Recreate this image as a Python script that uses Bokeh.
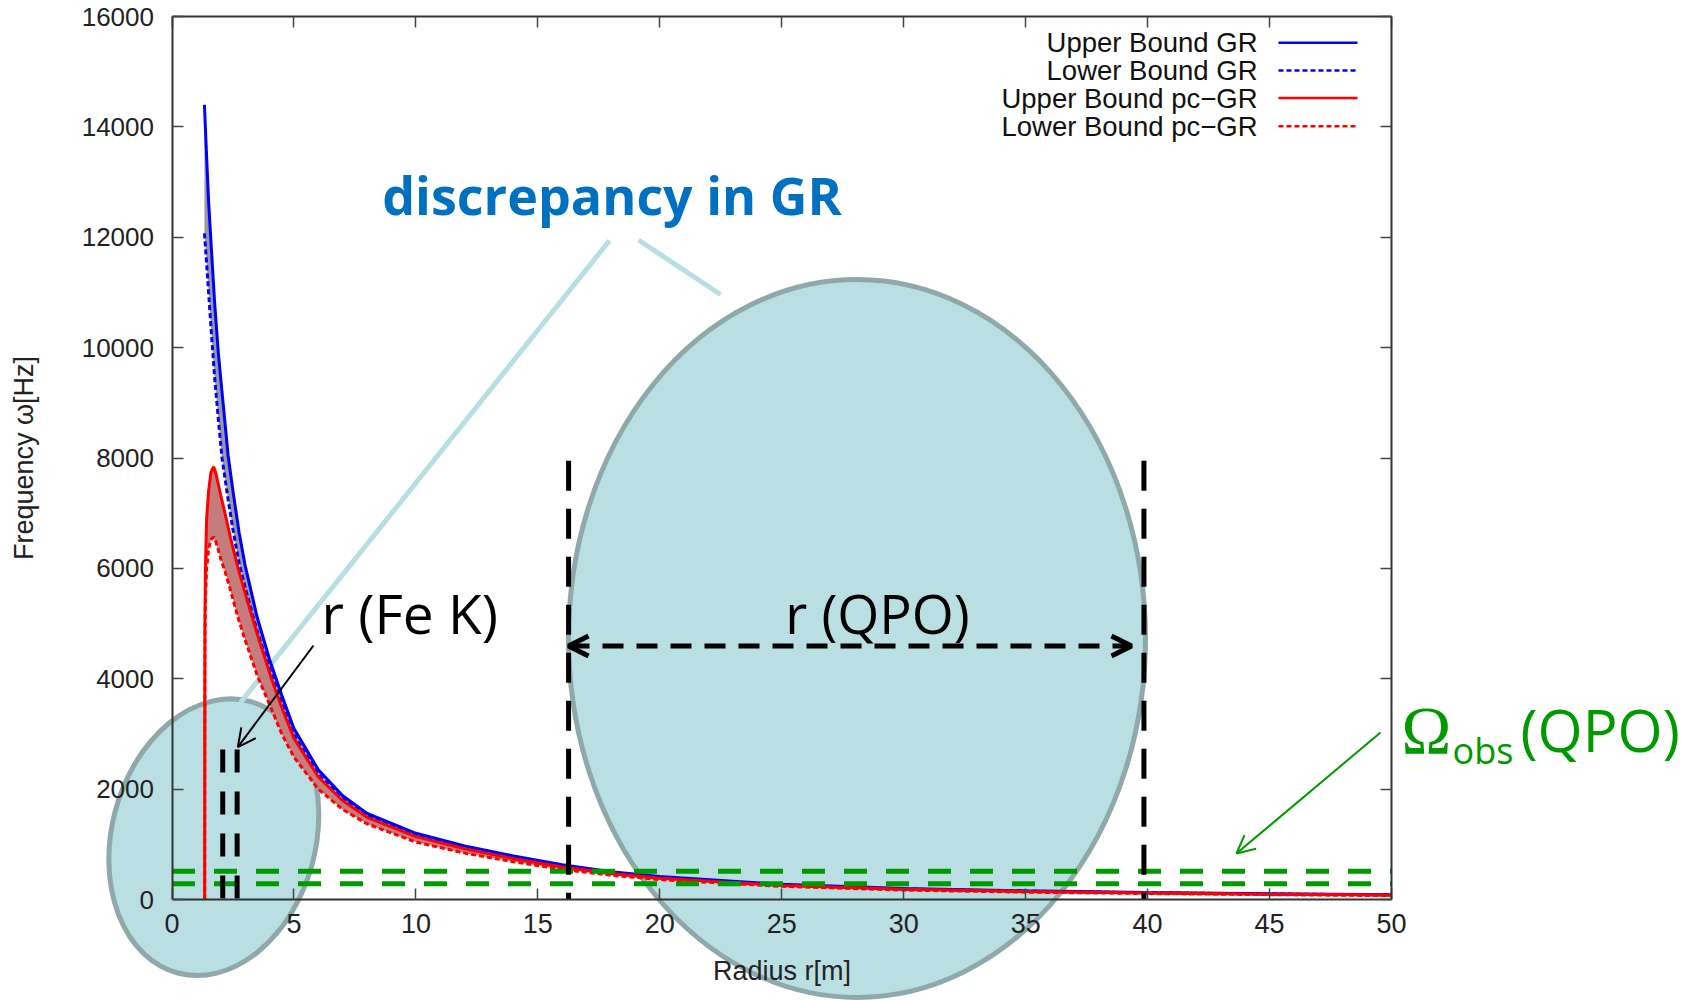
from bokeh.plotting import figure
from bokeh.models import Range1d, LinearAxis, FixedTicker, Arrow, OpenHead
from bokeh.core.properties import value
from bokeh.embed import file_html
from bokeh.resources import INLINE

# ---------------- data ----------------
x_ticks = [0, 5, 10, 15, 20, 25, 30, 35, 40, 45, 50]
y_ticks = [0, 2000, 4000, 6000, 8000, 10000, 12000, 14000, 16000]

gr_r = [1.33, 1.4, 1.5, 1.6, 1.75, 1.9, 2.05, 2.3, 2.5, 2.75, 3.0, 3.5, 4.0, 4.5,
        5.0, 6.0, 7.0, 8.0, 10, 12, 14, 16, 18, 20, 25, 30, 35, 40, 45, 50]
gr_upper = [14400, 13650, 12650, 11900, 10800, 9900, 9200, 8050, 7400, 6650, 6050,
            5100, 4350, 3700, 3100, 2350, 1880, 1560, 1200, 970, 790, 630, 505, 415,
            275, 200, 158, 128, 105, 88]
gr_lower = [12070, 11650, 11000, 10350, 9450, 8700, 8000, 7250, 6700, 6100, 5650,
            4850, 4200, 3550, 2980, 2270, 1820, 1510, 1160, 940, 765, 605, 485, 398,
            262, 190, 150, 122, 100, 83]

pc_r = [1.34, 1.345, 1.35, 1.37, 1.42, 1.5, 1.6, 1.71, 1.8, 1.9, 2.0, 2.17, 2.4, 2.71,
        3.0, 3.5, 4.08, 4.5, 5.0, 6.0, 7.0, 8.0, 10, 12, 14, 16, 18, 20, 25, 30, 35,
        40, 45, 50]
pc_upper = [0, 3000, 5000, 6000, 6900, 7400, 7750, 7840, 7720, 7520, 7320, 7000, 6550,
            6000, 5550, 4800, 4000, 3480, 2920, 2220, 1790, 1490, 1140, 920, 740, 590,
            470, 385, 255, 185, 145, 118, 97, 80]
pc_lower = [0, 2500, 4500, 5400, 6000, 6350, 6520, 6570, 6480, 6330, 6170, 5950, 5600,
            5100, 4700, 4050, 3450, 3000, 2580, 2000, 1630, 1370, 1040, 840, 685, 545,
            440, 360, 238, 170, 133, 108, 88, 70]

series_labels = ["Upper Bound GR", "Lower Bound GR", "Upper Bound pc\u2212GR", "Lower Bound pc\u2212GR"]

fe_k_radii = [2.08, 2.67]
fe_k_top = 2720
qpo_radii = [16.26, 39.85]
qpo_top = 7950
omega_obs = [513, 284]

# ---------------- geometry of the page ----------------
W, H = 1681, 1000
X_PX0, X_PX50 = 171.5, 1391.0
Y_PX0, Y_PX16K = 899.0, 16.0
sx = (X_PX50 - X_PX0) / 50.0
sy = (Y_PX0 - Y_PX16K) / 16000.0
x_start = -X_PX0 / sx
x_end = x_start + W / sx
y_end = 16000 + Y_PX16K / sy
y_start = y_end - H / sy


def rx(px):
    return (px - X_PX0) / sx


def vy(py):
    return (Y_PX0 - py) / sy


p = figure(width=W, height=H, x_range=Range1d(x_start, x_end), y_range=Range1d(y_start, y_end),
           min_border=0, toolbar_location=None, output_backend="svg",
           x_axis_location=None, y_axis_location=None)
p.outline_line_color = None
p.background_fill_color = "white"
p.border_fill_color = "white"
p.grid.visible = False

GNU_FONT = "Liberation Sans"
AX_COLOR = "#333333"


def style_axis(ax):
    ax.axis_line_color = AX_COLOR
    ax.axis_line_width = 2
    ax.major_tick_line_color = "#444444"
    ax.major_tick_line_width = 1.5
    ax.major_tick_in = 11
    ax.major_tick_out = 0
    ax.minor_tick_line_color = None
    ax.major_label_text_font = GNU_FONT
    ax.major_label_text_color = "#222222"
    ax.axis_label_text_font = GNU_FONT
    ax.axis_label_text_font_style = "normal"
    ax.axis_label_text_color = "#222222"


xb = LinearAxis(fixed_location=0, bounds=(0, 50), ticker=FixedTicker(ticks=x_ticks),
                axis_label="Radius r[m]")
style_axis(xb)
xb.major_label_text_font_size = "27px"
xb.major_label_standoff = 14
xb.axis_label_text_font_size = "27px"
xb.axis_label_standoff = 20
p.add_layout(xb, "below")

yl = LinearAxis(fixed_location=0, bounds=(0, 16000), ticker=FixedTicker(ticks=y_ticks),
                axis_label="Frequency \u03c9[Hz]")
style_axis(yl)
yl.major_label_text_font_size = "26px"
yl.major_label_standoff = 18
yl.axis_label_text_font_size = "27px"
yl.axis_label_standoff = 40
p.add_layout(yl, "left")

xt = LinearAxis(fixed_location=16000, bounds=(0, 50), ticker=FixedTicker(ticks=x_ticks))
style_axis(xt)
xt.major_label_text_color = None
p.add_layout(xt, "above")

yr = LinearAxis(fixed_location=50, bounds=(0, 16000), ticker=FixedTicker(ticks=y_ticks))
style_axis(yr)
yr.major_label_text_color = None
p.add_layout(yr, "right")

# ---------------- highlight ellipses (underneath) ----------------
ELL_FILL = "#b9dfe3"
ELL_LINE = "#8fa9ab"
p.ellipse(x=[rx(213.3)], y=[vy(836.7)], width=204, height=281, angle=-0.259,
          width_units="screen", height_units="screen",
          fill_color=ELL_FILL, line_color=ELL_LINE, line_width=5)
p.ellipse(x=[rx(856.5)], y=[vy(638)], width=577, height=718, angle=0,
          width_units="screen", height_units="screen",
          fill_color=ELL_FILL, line_color=ELL_LINE, line_width=5)

# callout lines from the text
p.segment(x0=[rx(609), rx(638)], y0=[vy(240), vy(239.5)],
          x1=[rx(240), rx(720)], y1=[vy(702), vy(294)],
          line_color="#b7dfe3", line_width=5)

# ---------------- the curves ----------------
p.varea(x=gr_r, y1=gr_lower, y2=gr_upper, fill_color="#9a9a9a")
p.varea(x=pc_r, y1=pc_lower, y2=pc_upper, fill_color="#c47c7c")

p.line(gr_r, gr_upper, line_color="#0000ff", line_width=3)
p.line(gr_r, gr_lower, line_color="#0000ff", line_width=3, line_dash="5 3")
p.line(pc_r, pc_upper, line_color="#ff0000", line_width=3)
p.line(pc_r, pc_lower, line_color="#ff0000", line_width=3, line_dash="5 3")

# ---------------- reference lines ----------------
GREEN = "#009900"
p.segment(x0=[0, 0], y0=omega_obs, x1=[50, 50], y1=omega_obs,
          line_color=GREEN, line_width=5, line_dash="23 19")
p.segment(x0=fe_k_radii, y0=[fe_k_top] * 2, x1=fe_k_radii, y1=[0, 0],
          line_color="black", line_width=5, line_dash="23 19")
p.segment(x0=qpo_radii, y0=[qpo_top] * 2, x1=qpo_radii, y1=[0, 0],
          line_color="black", line_width=5, line_dash="30 18")

# ---------------- legend (gnuplot style: text right, sample left) ----------------
leg_rows_px = [42.3, 70.0, 97.5, 125.7]
leg_colors = ["#0000ff", "#0000ff", "#ff0000", "#ff0000"]
leg_dash = ["solid", "5 3", "solid", "5 3"]
p.text(x=[rx(1257)] * 4, y=[vy(v) for v in leg_rows_px], text=series_labels,
       text_font=value(GNU_FONT), text_font_size="27.5px", text_align="right",
       text_baseline="middle", text_color="#111111")
for ypx, c, d in zip(leg_rows_px, leg_colors, leg_dash):
    p.line([rx(1278), rx(1357)], [vy(ypx), vy(ypx)], line_color=c, line_width=2.5, line_dash=d)

# ---------------- annotation texts ----------------
p.text(x=[rx(381.7)], y=[vy(194)], text=["discrepancy in GR"],
       text_font=value("Open Sans"), text_font_style="bold", text_font_size="52px",
       text_color="#0070c0", text_align="left", text_baseline="alphabetic")
p.text(x=[rx(321)], y=[vy(612)], text=["r (Fe K)"],
       text_font=value("Open Sans"), text_font_size="55px",
       text_color="black", text_align="left", text_baseline="alphabetic")
p.text(x=[rx(877)], y=[vy(612)], text=["r (QPO)"],
       text_font=value("Open Sans"), text_font_size="54px",
       text_color="black", text_align="center", text_baseline="alphabetic")
p.text(x=[rx(1401)], y=[vy(729)], text=["\u03a9"],
       text_font=value("Liberation Serif"), text_font_size="67px",
       text_color=GREEN, text_align="left", text_baseline="alphabetic")
p.text(x=[rx(1452)], y=[vy(750)], text=["obs"],
       text_font=value("Open Sans"), text_font_size="36px",
       text_color=GREEN, text_align="left", text_baseline="alphabetic")
p.text(x=[rx(1520)], y=[vy(729)], text=["(QPO)"],
       text_font=value("Open Sans"), text_font_size="58px",
       text_color=GREEN, text_align="left", text_baseline="alphabetic")

# ---------------- arrows ----------------
p.add_layout(Arrow(x_start=rx(313), y_start=vy(645), x_end=rx(237.3), y_end=vy(746.7),
                   line_color="black", line_width=2,
                   end=OpenHead(size=18, line_color="black", line_width=2)))
p.add_layout(Arrow(x_start=rx(568), y_start=vy(645.5), x_end=rx(1131), y_end=vy(645.5),
                   line_color="black", line_width=5, line_dash="21 13",
                   start=OpenHead(size=20, line_color="black", line_width=5),
                   end=OpenHead(size=20, line_color="black", line_width=5)))
p.add_layout(Arrow(x_start=rx(1380), y_start=vy(732), x_end=rx(1236), y_end=vy(853),
                   line_color=GREEN, line_width=2,
                   end=OpenHead(size=18, line_color=GREEN, line_width=2)))

open("out.html", "w").write(file_html(p, INLINE))
